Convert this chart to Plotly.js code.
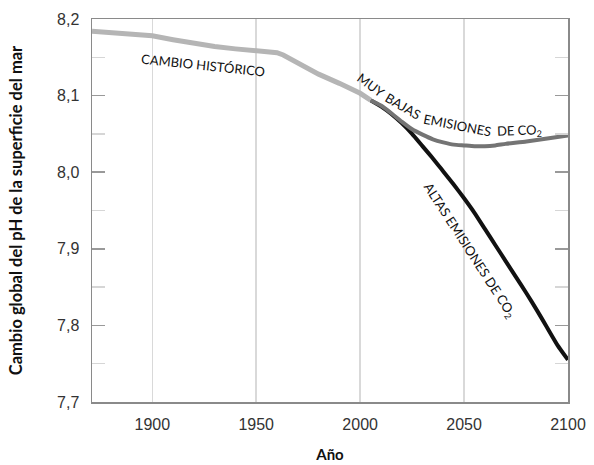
<!DOCTYPE html>
<html>
<head>
<meta charset="utf-8">
<script src="https://cdn.plot.ly/plotly-3.0.1.min.js"></script>
<style>html,body{margin:0;padding:0;background:#fff;}#chart{width:594px;height:465px;}</style>
</head>
<body>
<div id="chart"></div>
<script>
// Historical change
const histYears = [1871, 1880, 1890, 1900, 1910, 1920, 1925, 1930, 1940, 1950, 1960, 1963, 1970, 1980, 1990, 2000, 2005];
const histPH    = [8.184, 8.182, 8.180, 8.178, 8.173, 8.168, 8.165, 8.164, 8.161, 8.158, 8.156, 8.153, 8.142, 8.128, 8.116, 8.103, 8.094];

// Very low CO2 emissions scenario
const lowYears = [2005, 2010, 2015, 2020, 2025, 2030, 2035, 2040, 2045, 2050, 2055, 2060, 2065, 2070, 2080, 2090, 2100];
const lowPH    = [8.094, 8.087, 8.077, 8.066, 8.056, 8.049, 8.043, 8.039, 8.036, 8.035, 8.034, 8.034, 8.035, 8.037, 8.040, 8.044, 8.048];

// High CO2 emissions scenario
const highYears = [2005, 2010, 2015, 2020, 2025, 2030, 2035, 2040, 2045, 2050, 2055, 2060, 2065, 2070, 2075, 2080, 2085, 2090, 2095, 2100];
const highPH    = [8.094, 8.086, 8.076, 8.064, 8.050, 8.034, 8.018, 8.001, 7.984, 7.966, 7.947, 7.926, 7.905, 7.884, 7.863, 7.842, 7.820, 7.797, 7.774, 7.755];

const xTickVals = [1900, 1950, 2000, 2050, 2100];
const yTickVals = [7.7, 7.8, 7.9, 8.0, 8.1, 8.2];

const labelHist = 'CAMBIO HISTÓRICO';
const labelLowParts = ['MUY', 'BAJAS', 'EMISIONES', 'DE CO<sub>2</sub>'];
const labelHigh = 'ALTAS EMISIONES DE CO<sub>2</sub>';
const yTitle = 'Cambio global del pH de la superficie del mar';
const xTitle = 'Año';

const X0 = 1871, X1 = 2100, Y0 = 7.7, Y1 = 8.2;
const L = 92, R = 26, T = 19, B = 63, W = 594, H = 465;
const pw = W - L - R, ph = H - T - B;
function dx(px) { return X0 + (px - L) / pw * (X1 - X0); }
function dy(py) { return Y1 - (py - T) / ph * (Y1 - Y0); }

const lblFont = {family: 'Lato, "Open Sans", sans-serif', size: 13, color: '#111'};

const traces = [
  {x: highYears, y: highPH, mode: 'lines', line: {color: '#111111', width: 4, shape: 'spline', smoothing: 0.5}, hoverinfo: 'skip'},
  {x: lowYears, y: lowPH, mode: 'lines', line: {color: '#747474', width: 4, shape: 'spline', smoothing: 0.5}, hoverinfo: 'skip'},
  {x: histYears, y: histPH, mode: 'lines', line: {color: '#b5b5b5', width: 5}, hoverinfo: 'skip'}
];

const lowPos = [[371, 85, 37], [403, 106, 30], [457, 125, 11], [519, 131, -2]];
const annotations = [
  {x: dx(203), y: dy(65), text: labelHist, textangle: 6, showarrow: false, font: lblFont, xref: 'x', yref: 'y'},
  {x: dx(469), y: dy(250), text: labelHigh, textangle: 57, showarrow: false, font: lblFont, xref: 'x', yref: 'y'}
];
labelLowParts.forEach((t, i) => {
  annotations.push({x: dx(lowPos[i][0]), y: dy(lowPos[i][1]), text: t, textangle: lowPos[i][2], showarrow: false, font: lblFont, xref: 'x', yref: 'y'});
});

const layout = {
  width: W, height: H,
  margin: {l: L, r: R, t: T, b: B, pad: 0},
  paper_bgcolor: '#fff', plot_bgcolor: '#fff',
  showlegend: false,
  separators: ',.',
  xaxis: {
    range: [X0, X1], tickvals: xTickVals, ticks: '', showgrid: true, gridcolor: '#d9d9d9', gridwidth: 1.5,
    zeroline: false, showline: true, linecolor: '#8a8a8a', linewidth: 1.5, mirror: true,
    tickfont: {family: '"Liberation Sans", Arial, sans-serif', size: 16, color: '#333'},
    ticklabelstandoff: 7,
    title: {text: xTitle, font: {family: 'Lato, sans-serif', size: 15, color: '#111', weight: 'bold'}, standoff: 18}
  },
  yaxis: {
    range: [Y0, Y1], tickvals: yTickVals, tickformat: '.1f', ticks: 'inside', ticklen: 13, tickwidth: 1.5, tickcolor: '#999',
    showgrid: false, zeroline: false, showline: true, linecolor: '#8a8a8a', linewidth: 1.5, mirror: 'ticks',
    minor: {dtick: 0.05, ticks: 'inside', ticklen: 13, tickwidth: 1.5, tickcolor: '#d6d6d6', showgrid: false},
    tickfont: {family: '"Liberation Sans", Arial, sans-serif', size: 16, color: '#333'},
    ticklabelstandoff: 8,
    title: {text: yTitle, font: {family: 'Lato, sans-serif', size: 16.5, color: '#111', weight: 'bold'}, standoff: 30}
  },
  annotations: annotations
};

Plotly.newPlot('chart', traces, layout, {displayModeBar: false, staticPlot: true});
</script>
</body>
</html>
